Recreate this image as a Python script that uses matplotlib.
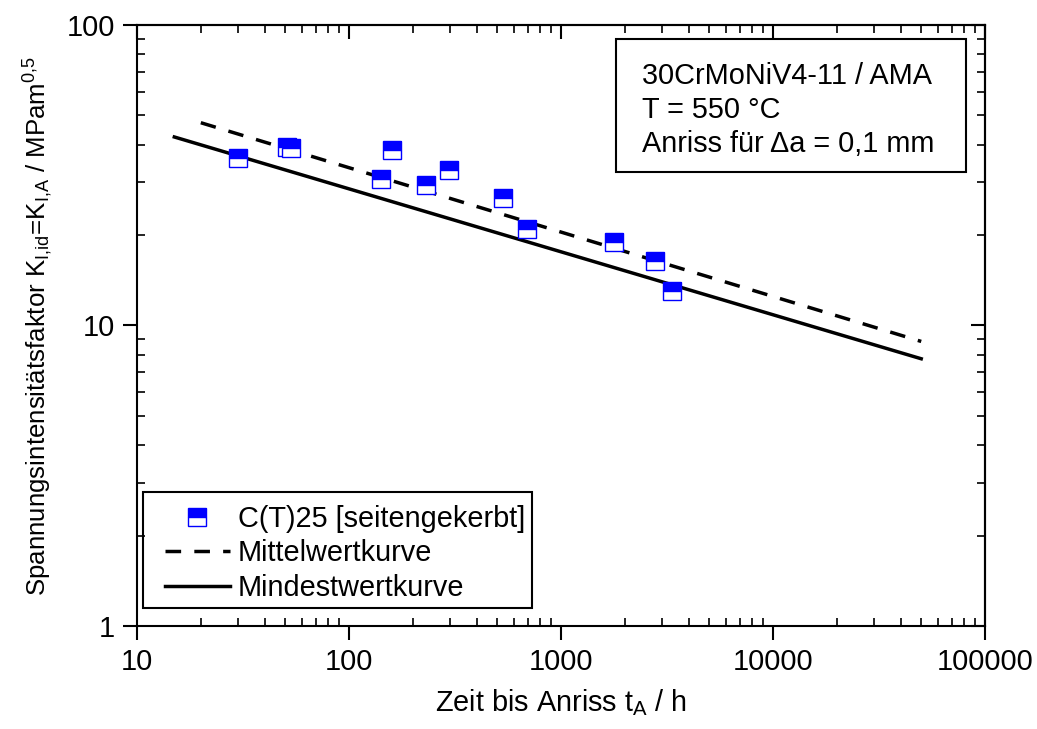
import numpy as np
import matplotlib
matplotlib.use("Agg")
import matplotlib.pyplot as plt
from matplotlib.patches import Rectangle

plt.rcParams['font.family'] = ['Liberation Sans', 'DejaVu Sans']
plt.rcParams['mathtext.fontset'] = 'custom'
plt.rcParams['mathtext.rm'] = 'Liberation Sans'
plt.rcParams['mathtext.it'] = 'Liberation Sans'
plt.rcParams['font.size'] = 20.8

# Messpunkte C(T)25 [seitengekerbt]
t_anriss = [30, 51, 53.5, 160, 142, 232, 296, 530, 690, 1770, 2790, 3350]
k_anriss = [36.2, 39.4, 39.1, 38.5, 30.7, 29.3, 33.0, 26.5, 21.0, 18.9, 16.4, 13.0]

# Ausgleichskurven (Endpunkte)
t_mittel = [20, 50000]
k_mittel = [47.3, 8.85]
t_mindest = [15, 50000]
k_mindest = [42.4, 7.75]

info_lines = ["30CrMoNiV4-11 / AMA", "T = 550 °C", "Anriss für \u0394a = 0,1 mm"]

FS = 20.8

fig = plt.figure(figsize=(10.37, 7.29), dpi=100)
ax = fig.add_axes([0.1321, 0.1413, 0.8178, 0.8244])

ax.plot(t_anriss, k_anriss, ls='none', marker='s', markersize=13,
        fillstyle='top', markerfacecolor='#0000ff', markerfacecoloralt='white',
        markeredgecolor='#0000ff', markeredgewidth=1.0,
        label='C(T)25 [seitengekerbt]', zorder=3)
ax.plot(t_mittel, k_mittel, color='black', lw=2.5, dashes=(4.5, 3.8),
        label='Mittelwertkurve')
ax.plot(t_mindest, k_mindest, color='black', lw=2.5, label='Mindestwertkurve')

ax.set_xscale('log')
ax.set_yscale('log')
ax.set_xlim(10, 100000)
ax.set_ylim(1, 100)
ax.xaxis.set_major_formatter(matplotlib.ticker.FuncFormatter(lambda v, p: f"{v:.0f}"))
ax.yaxis.set_major_formatter(matplotlib.ticker.FuncFormatter(lambda v, p: f"{v:.0f}"))

for s in ax.spines.values():
    s.set_linewidth(1.5)
ax.tick_params(which='major', direction='out', length=10, width=1.5, pad=6, labelsize=FS)
ax.tick_params(which='minor', direction='in', length=6, width=1.2)

# obere und rechte Achse: Striche nach innen
top = ax.secondary_xaxis('top')
top.tick_params(which='major', direction='in', length=10, width=1.5, labeltop=False)
top.tick_params(which='minor', direction='in', length=6, width=1.2)
top.xaxis.set_major_formatter(matplotlib.ticker.NullFormatter())
top.xaxis.set_minor_formatter(matplotlib.ticker.NullFormatter())
right = ax.secondary_yaxis('right')
right.tick_params(which='major', direction='in', length=10, width=1.5, labelright=False)
right.tick_params(which='minor', direction='in', length=6, width=1.2)
right.yaxis.set_major_formatter(matplotlib.ticker.NullFormatter())
right.yaxis.set_minor_formatter(matplotlib.ticker.NullFormatter())
for sa in (top, right):
    for s in sa.spines.values():
        s.set_linewidth(1.5)

ax.set_xlabel(r'Zeit bis Anriss $\mathregular{t_A}$ / h', fontsize=FS, labelpad=8)
ax.set_ylabel(r'Spannungsintensitätsfaktor $\mathregular{K_{I{,}id}}$=$\mathregular{K_{I{,}A}}$ / MPam$\mathregular{^{0{,}5}}$',
              fontsize=18.6, labelpad=8)

# Legende ohne eigenen Rahmen, Rahmen separat
leg = ax.legend(loc='upper left', bbox_to_anchor=(0.033, 0.2013), fontsize=FS,
                numpoints=1, frameon=False,
                handlelength=2.25, handletextpad=0.28, borderpad=0,
                labelspacing=0.22, borderaxespad=0)
ax.add_patch(Rectangle((0.007, 0.03), 0.459, 0.193, transform=ax.transAxes,
                       fill=False, edgecolor='black', lw=1.5, zorder=4))

ax.add_patch(Rectangle((0.565, 0.7554), 0.4127, 0.2213, transform=ax.transAxes,
                       fill=False, edgecolor='black', lw=1.5, zorder=4))
for i, line in enumerate(info_lines):
    ax.text(0.5955, 0.915 - i * 0.0566, line, transform=ax.transAxes,
            ha='left', va='center', fontsize=FS, zorder=5)

fig.savefig('out.png', dpi=100)
